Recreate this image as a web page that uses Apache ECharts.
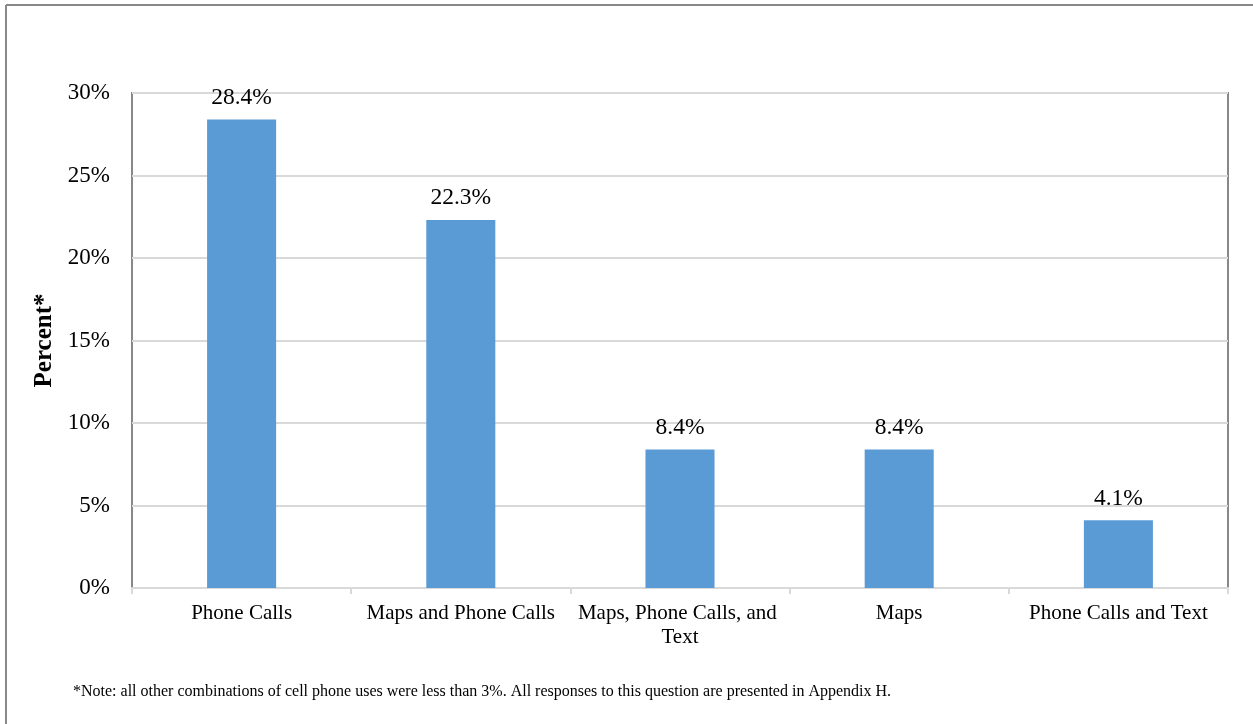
<!DOCTYPE html>
<html>
<head>
<meta charset="utf-8">
<script src="https://cdn.jsdelivr.net/npm/echarts@6/dist/echarts.min.js"></script>
<style>html,body{margin:0;padding:0;background:#fff;}#c{width:1253px;height:724px;}</style>
</head>
<body>
<div id="c"></div>
<script>
const categories = ["Phone Calls", "Maps and Phone Calls", "Maps, Phone Calls, and Text", "Maps", "Phone Calls and Text"];
const percentValues = [28.4, 22.3, 8.4, 8.4, 4.1];
const yAxisTitle = "Percent*";
const noteText = "*Note: all other combinations of cell phone uses were less than 3%. All responses to this question are presented in Appendix H.";

const FONT = '"Liberation Serif", "Times New Roman", serif';
const chart = echarts.init(document.getElementById('c'));
chart.setOption({
  backgroundColor: '#fff',
  animation: false,
  textStyle: { fontFamily: FONT },
  grid: { left: 132, right: 25, top: 93, bottom: 136, show: true, borderColor: '#888', borderWidth: 2, backgroundColor: 'transparent' },
  graphic: [
    { type: 'line', shape: { x1: 6, y1: 5, x2: 1253, y2: 5 }, style: { stroke: '#888', lineWidth: 2 } },
    { type: 'line', shape: { x1: 6, y1: 5, x2: 6, y2: 724 }, style: { stroke: '#888', lineWidth: 2 } },
    { type: 'text', left: 73, top: 684, style: { text: noteText, font: '16px ' + FONT, fill: '#000' } }
  ],
  xAxis: {
    type: 'category',
    data: categories,
    axisLine: { show: true, lineStyle: { color: '#d9d9d9', width: 2 } },
    axisTick: { show: true, length: 6, lineStyle: { color: '#d9d9d9', width: 2 } },
    axisLabel: { color: '#000', fontSize: 21, fontFamily: FONT, margin: 13, lineHeight: 24, width: 215, overflow: 'break', interval: 0 }
  },
  yAxis: {
    type: 'value',
    min: 0, max: 30, interval: 5,
    name: yAxisTitle,
    nameLocation: 'middle',
    nameGap: 73,
    nameRotate: 90,
    nameTextStyle: { color: '#000', fontSize: 25, fontWeight: 'bold', fontFamily: FONT },
    axisLine: { show: false },
    axisTick: { show: false },
    axisLabel: { color: '#000', fontSize: 23, fontFamily: FONT, margin: 22, formatter: v => v + '%' },
    splitLine: { lineStyle: { color: '#d9d9d9', width: 2 } }
  },
  series: [{
    type: 'bar',
    data: percentValues,
    barWidth: '31.5%',
    itemStyle: { color: '#5b9bd5' },
    label: { show: true, position: 'top', distance: 10, color: '#000', fontSize: 23.5, fontFamily: FONT, formatter: p => p.value.toFixed(1) + '%' }
  }]
});
</script>
</body>
</html>
